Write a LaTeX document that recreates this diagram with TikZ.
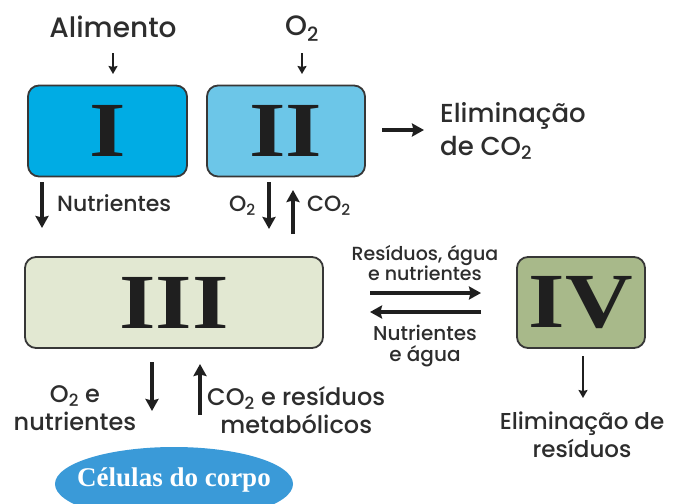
\documentclass[tikz,border=0pt]{standalone}
\usepackage{fontspec}
\setmainfont{Poppins}[UprightFont={* Medium}]
\newfontfamily\numfont{Liberation Serif}
\usetikzlibrary{arrows.meta,shapes.geometric}
\definecolor{cI}{RGB}{0,172,228}
\definecolor{cII}{RGB}{108,198,232}
\definecolor{cIII}{RGB}{226,232,210}
\definecolor{cIV}{RGB}{168,185,138}
\definecolor{cell}{RGB}{58,154,216}
\definecolor{bord}{RGB}{55,55,55}
\definecolor{txt}{RGB}{45,45,45}
\newcommand{\rom}[1]{\scalebox{1.2}[1]{#1}}
\tikzset{
  organ/.style={draw=bord,line width=1.8pt,rounded corners=11pt,inner sep=0pt},
  roman/.style={font=\numfont\bfseries\fontsize{78}{78}\selectfont, text=black!88},
  lbl/.style={text=txt,inner sep=0pt,align=center},
  arr/.style={line width=3.2pt,draw=black!88,-{Stealth[length=12pt,width=13pt,inset=1.5pt]}},
  sarr/.style={line width=2.2pt,draw=black!88,-{Stealth[length=8pt,width=9pt,inset=1pt]}}
}
\begin{document}
\begin{tikzpicture}[x=1pt,y=-1pt]
\useasboundingbox (0,0) rectangle (676,503);
\clip (0,0) rectangle (676,503);
% boxes
\node[organ,fill=cI,minimum width=159pt,minimum height=91pt] (I) at (107.5,131) {};
\node[roman] at (I) {\rom{I}};
\node[organ,fill=cII,minimum width=158pt,minimum height=91pt] (II) at (286,131) {};
\node[roman] at (II) {\rom{II}};
\node[organ,fill=cIII,minimum width=298pt,minimum height=91pt] (III) at (174,302.5) {};
\node[roman] at (III) {\rom{III}};
\node[organ,fill=cIV,minimum width=128pt,minimum height=91pt] (IV) at (581,302.5) {};
\node[roman] at (IV) {\rom{IV}};
% top inputs
\node[lbl,font=\fontsize{28}{30}\selectfont] (ali) at (113,27) {Alimento};
\coordinate (a1) at (113,53); \coordinate (a2) at (113,74);
\draw[sarr] (a1) -- (a2);
\node[lbl,font=\fontsize{28}{30}\selectfont] (o2) at (302,29) {O\textsubscript{2}};
\coordinate (b1) at (302,53); \coordinate (b2) at (302,74);
\draw[sarr] (b1) -- (b2);
% elimination CO2
\coordinate (c1) at (382,130); \coordinate (c2) at (424,130);
\draw[arr] (c1) -- (c2);
\node[lbl,anchor=west,align=left,font=\fontsize{26}{33}\selectfont] (elco2) at (440,131) {Eliminação\\de CO\textsubscript{2}};
% nutrientes
\coordinate (n1) at (42,182); \coordinate (n2) at (42,228);
\draw[arr] (n1) -- (n2);
\node[lbl,anchor=west,font=\fontsize{22}{24}\selectfont] (nut) at (57,203) {Nutrientes};
% O2 CO2 exchange
\coordinate (d1) at (269,182); \coordinate (d2) at (269,229);
\draw[arr] (d1) -- (d2);
\coordinate (e1) at (293,234); \coordinate (e2) at (293,190);
\draw[arr] (e1) -- (e2);
\node[lbl,anchor=east,font=\fontsize{22}{24}\selectfont] (o2b) at (256,206) {O\textsubscript{2}};
\node[lbl,anchor=west,font=\fontsize{22}{24}\selectfont] (co2b) at (307,206) {CO\textsubscript{2}};
% III <-> IV
\node[lbl,font=\fontsize{19}{19.5}\selectfont] (res) at (425,263) {Resíduos, água\\e nutrientes};
\coordinate (f1) at (370,293); \coordinate (f2) at (481,293);
\draw[arr] (f1) -- (f2);
\coordinate (g1) at (481,312); \coordinate (g2) at (370,312);
\draw[arr] (g1) -- (g2);
\node[lbl,font=\fontsize{20}{21}\selectfont] (nag) at (425,346) {Nutrientes\\e água};
% III <-> cells
\coordinate (h1) at (152,362); \coordinate (h2) at (152,411);
\draw[arr] (h1) -- (h2);
\coordinate (k1) at (200,415); \coordinate (k2) at (200,364);
\draw[arr] (k1) -- (k2);
\node[lbl,font=\fontsize{24}{28}\selectfont] (o2n) at (75,408) {O\textsubscript{2} e\\nutrientes};
\node[lbl,anchor=north west,align=center,font=\fontsize{24}{28}\selectfont] (co2r) at (207,386) {CO\textsubscript{2} e resíduos\\metabólicos};
% IV elimination
\coordinate (m1) at (583,356); \coordinate (m2) at (583,398);
\draw[sarr] (m1) -- (m2);
\node[lbl,font=\fontsize{23}{28}\selectfont] (elr) at (582,435) {Eliminação de\\resíduos};
% cells
\node[ellipse,fill=cell,minimum width=238pt,minimum height=74pt,inner sep=0pt] (cel) at (174,484) {};
\node[text=white,font=\numfont\bfseries\fontsize{27}{30}\selectfont] at (174,480) {Células do corpo};
\end{tikzpicture}
\end{document}
